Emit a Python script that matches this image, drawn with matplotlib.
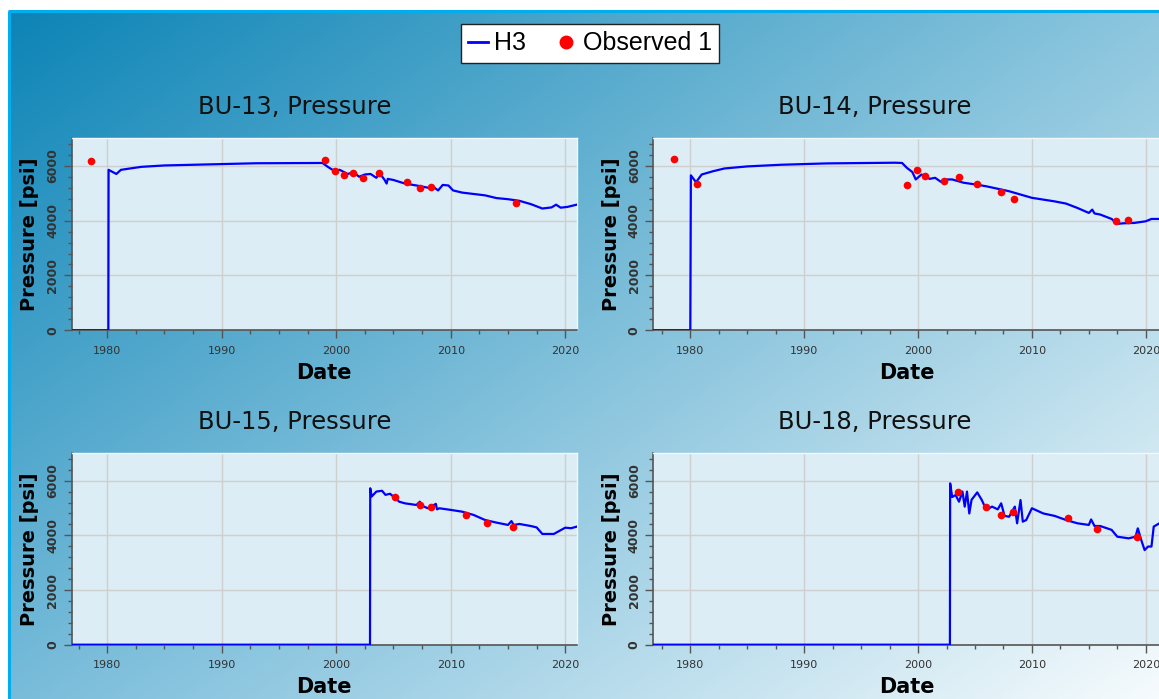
import numpy as np
import matplotlib
matplotlib.use("Agg")
import matplotlib.pyplot as plt
from matplotlib.lines import Line2D
from matplotlib.ticker import MultipleLocator

# ---------------- data ----------------
wells = ["BU-13", "BU-14", "BU-15", "BU-18"]

# simulated H3 (decimal year, psi)
bu13_sim_x = [1976.5, 1980.1, 1980.12, 1980.8, 1981.2, 1982, 1983, 1985, 1988, 1990, 1993, 1998.8,
              1999.3, 1999.8, 2000.3, 2001, 2001.5, 2002, 2002.5, 2003, 2003.5, 2003.8, 2004.2,
              2004.4, 2004.5, 2005, 2006, 2007, 2008, 2008.5, 2008.9, 2009.3, 2009.8, 2010.2,
              2011, 2013, 2014, 2015, 2016, 2017, 2018, 2018.8, 2019.2, 2019.6, 2020.2, 2021.2]
bu13_sim_y = [0, 0, 5850, 5700, 5850, 5900, 5960, 6010, 6040, 6060, 6090, 6100,
              5950, 5820, 5850, 5700, 5760, 5600, 5680, 5700, 5560, 5720, 5500,
              5350, 5520, 5480, 5350, 5280, 5200, 5220, 5100, 5300, 5280, 5100,
              5020, 4920, 4820, 4780, 4720, 4600, 4440, 4480, 4580, 4470, 4500, 4600]

bu14_sim_x = [1976.5, 1980.0, 1980.05, 1980.5, 1981, 1982, 1983, 1985, 1988, 1992, 1998, 1998.6,
              1999, 1999.5, 1999.8, 2000.3, 2000.8, 2001, 2001.5, 2002, 2002.5, 2003, 2003.5,
              2004, 2004.5, 2005, 2006, 2007, 2008, 2009, 2010, 2012, 2013, 2014, 2015,
              2015.3, 2015.5, 2016, 2017, 2017.5, 2018, 2019, 2020, 2020.5, 2021.2]
bu14_sim_y = [0, 0, 5650, 5400, 5680, 5800, 5900, 5975, 6036, 6085, 6110, 6100,
              5930, 5770, 5500, 5680, 5600, 5520, 5560, 5415, 5500, 5500, 5440,
              5380, 5350, 5320, 5250, 5160, 5070, 4950, 4830, 4700, 4620, 4460, 4280,
              4400, 4260, 4220, 4060, 3880, 3900, 3915, 3975, 4060, 4060]

bu15_sim_x = [1976.5, 2002.95, 2002.97, 2003.1, 2003.5, 2004, 2004.3, 2004.7, 2005, 2005.5,
              2006, 2007, 2007.3, 2007.5, 2008, 2008.7, 2008.8, 2009, 2010, 2011, 2012, 2013,
              2014, 2015, 2015.3, 2015.5, 2016, 2017, 2017.5, 2018, 2019, 2020, 2020.5, 2021.2]
bu15_sim_y = [0, 0, 5720, 5420, 5600, 5630, 5480, 5520, 5415, 5230,
              5170, 5110, 5230, 5080, 4990, 5150, 4950, 4990, 4930, 4865, 4745, 4560,
              4465, 4380, 4520, 4380, 4415, 4340, 4290, 4050, 4050, 4280, 4260, 4340]

bu18_sim_x = [1976.5, 2002.8, 2002.82, 2003.0, 2003.3, 2003.6, 2003.9, 2004.1, 2004.3, 2004.5,
              2004.7, 2005.2, 2005.6, 2006, 2006.5, 2007, 2007.3, 2007.6, 2008, 2008.5, 2008.7,
              2009, 2009.2, 2009.5, 2010, 2011, 2012, 2013, 2014, 2015, 2015.2, 2015.5, 2016,
              2017, 2017.5, 2018.5, 2019.1, 2019.3, 2019.6, 2019.9, 2020.2, 2020.5, 2020.7, 2021.2]
bu18_sim_y = [0, 0, 5900, 5400, 5475, 5230, 5600, 5050, 5600, 4800,
              5300, 5570, 5290, 4930, 5050, 4950, 5170, 4710, 4680, 5050, 4440,
              5290, 4500, 4560, 4990, 4800, 4710, 4560, 4440, 4380, 4580, 4340, 4340,
              4200, 3950, 3890, 3950, 4255, 3830, 3460, 3590, 3590, 4320, 4440]

# observed
bu13_obs_x = [1978.6, 1999.0, 1999.9, 2000.7, 2001.5, 2002.3, 2003.7, 2006.2, 2007.3, 2008.3, 2015.7]
bu13_obs_y = [6160, 6195, 5817, 5660, 5730, 5537, 5744, 5400, 5183, 5220, 4646]

bu14_obs_x = [1978.55, 1980.58, 1999.0, 1999.87, 2000.6, 2002.3, 2003.6, 2005.2, 2007.3, 2008.4, 2017.4, 2018.4]
bu14_obs_y = [6232, 5317, 5293, 5829, 5622, 5451, 5585, 5341, 5024, 4805, 4000, 4024]

bu15_obs_x = [2005.15, 2007.3, 2008.3, 2011.3, 2013.2, 2015.4]
bu15_obs_y = [5390, 5110, 5050, 4745, 4440, 4320]

bu18_obs_x = [2003.5, 2006.0, 2007.3, 2008.3, 2013.2, 2015.7, 2019.2]
bu18_obs_y = [5570, 5050, 4745, 4865, 4645, 4220, 3950]

sim_x = [bu13_sim_x, bu14_sim_x, bu15_sim_x, bu18_sim_x]
sim_y = [bu13_sim_y, bu14_sim_y, bu15_sim_y, bu18_sim_y]
obs_x = [bu13_obs_x, bu14_obs_x, bu15_obs_x, bu18_obs_x]
obs_y = [bu13_obs_y, bu14_obs_y, bu15_obs_y, bu18_obs_y]

x_ticks = [1980, 1990, 2000, 2010, 2020]
y_ticks = [0, 2000, 4000, 6000]

# ---------------- figure ----------------
W, H = 1159, 699
fig = plt.figure(figsize=(W / 100, H / 100), dpi=100)
fig.patch.set_facecolor("white")

# gradient background
bg = fig.add_axes([0, 0, 1, 1], zorder=-10)
bg.set_xlim(0, W)
bg.set_ylim(H, 0)
bg.axis("off")
c_tl = np.array([12, 132, 182]) / 255
c_tr = np.array([140, 198, 222]) / 255
c_bl = np.array([120, 188, 218]) / 255
c_br = np.array([246, 251, 253]) / 255
u = np.linspace(0, 1, 240)[None, :, None]
v = np.linspace(0, 1, 150)[:, None, None]
grad = (c_tl * (1 - u) * (1 - v) + c_tr * u * (1 - v)
        + c_bl * (1 - u) * v + c_br * u * v)
bg.imshow(grad, extent=(9, W, H, 11), interpolation="bilinear", aspect="auto")
bg.plot([9, 9], [11, H], color="#00aeef", lw=2.2, solid_capstyle="butt")
bg.plot([8, W], [11, 11], color="#00aeef", lw=2.2, solid_capstyle="butt")

# axes positions in pixels (left, top, right, bottom)
boxes = [(71.7, 138.3, 576.7, 330.3), (653.3, 138.3, 1160.0, 330.3),
         (71.7, 453.3, 576.7, 644.7), (653.3, 453.3, 1160.0, 644.7)]
title_pos = [(295, 107), (875, 107), (295, 422), (875, 422)]
xlims = [(1976.9, 2021.0), (1976.75, 2021.25), (1976.9, 2021.0), (1976.75, 2021.25)]

for i in range(4):
    l, t, r, b = boxes[i]
    ax = fig.add_axes([l / W, 1 - b / H, (r - l) / W, (b - t) / H])
    ax.set_facecolor("#dcedf5")
    ax.plot(sim_x[i], sim_y[i], color="#0000ff", lw=1.6, zorder=3)
    ax.plot(obs_x[i], obs_y[i], linestyle="none", marker="o", color="#ff0000",
            markersize=5.5, markeredgewidth=0, zorder=4)
    ax.set_xlim(*xlims[i])
    ax.set_ylim(0, 7000)
    ax.set_xticks(x_ticks)
    ax.set_yticks(y_ticks)
    ax.xaxis.set_minor_locator(MultipleLocator(2.5))
    ax.yaxis.set_minor_locator(MultipleLocator(400))
    ax.grid(True, which="major", color="#cfcfcf", lw=1.0, zorder=0)
    ax.set_axisbelow(True)
    for s in ["top", "right"]:
        ax.spines[s].set_color("#f2f8fb")
        ax.spines[s].set_linewidth(1.0)
    for s in ["left", "bottom"]:
        ax.spines[s].set_color("#555555")
        ax.spines[s].set_linewidth(1.2)
    ax.tick_params(axis="both", which="major", direction="out", length=6, width=1,
                   color="#555555", labelsize=8, labelcolor="#333333")
    ax.tick_params(axis="both", which="minor", direction="out", length=3, width=1,
                   color="#555555")
    ax.tick_params(axis="x", pad=5)
    ax.tick_params(axis="y", pad=3)
    for lab in ax.get_yticklabels():
        lab.set_rotation(90)
        lab.set_va("center")
        lab.set_fontweight("bold")
        lab.set_fontsize(9)
    ax.set_xlabel("Date", fontsize=15, fontweight="bold", labelpad=5)
    ax.set_ylabel("Pressure [psi]", fontsize=14, fontweight="bold", labelpad=5)
    tx, ty = title_pos[i]
    fig.text(tx / W, 1 - ty / H, f"{wells[i]}, Pressure", ha="center", va="center",
             fontsize=17.5, color="#111111")

# legend
handles = [Line2D([0], [0], color="#0000ff", lw=2),
           Line2D([0], [0], linestyle="none", marker="o", color="#ff0000",
                  markersize=10, markeredgewidth=0)]
leg = fig.legend(handles, ["H3", "Observed 1"], loc="upper center",
                 bbox_to_anchor=(590 / W, 1 - 24 / H), ncol=2, frameon=True,
                 fancybox=False, edgecolor="#222222", facecolor="white", framealpha=1,
                 prop={"family": ["Liberation Sans", "DejaVu Sans"], "size": 18},
                 handlelength=0.8, handletextpad=0.25, columnspacing=1.2,
                 borderpad=0.3, borderaxespad=0)
leg.get_frame().set_linewidth(1.0)

fig.savefig("out.png", dpi=100)
